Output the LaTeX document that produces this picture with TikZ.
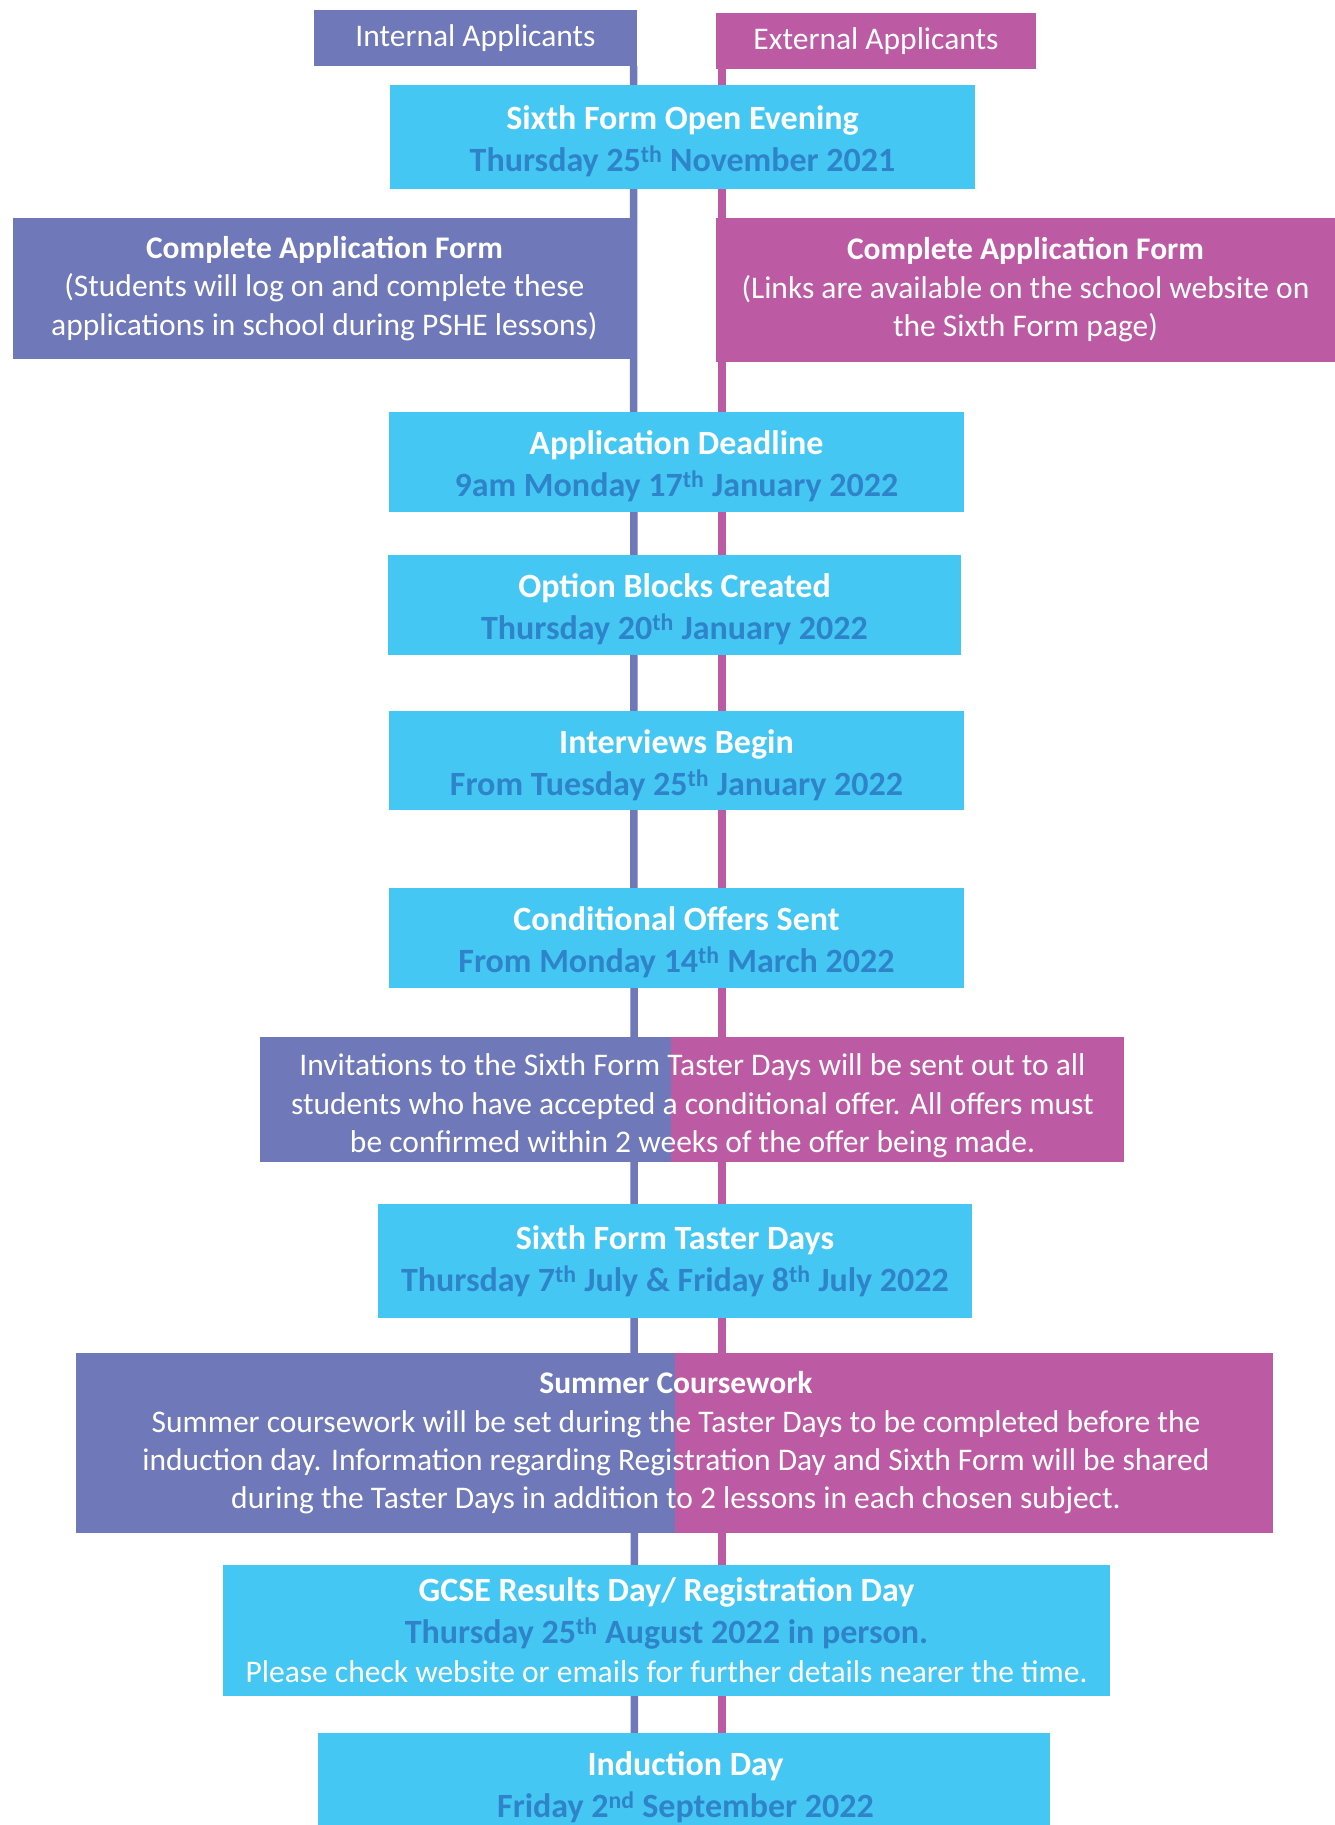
\documentclass[tikz,border=0pt]{standalone}
\usepackage{fontspec}
\setmainfont{Carlito}
\definecolor{intc}{HTML}{6F78B8}
\definecolor{extc}{HTML}{BC5BA3}
\definecolor{cyanc}{HTML}{45C7F3}
\definecolor{datec}{HTML}{2F84C9}
\pgfdeclarelayer{bg}
\pgfsetlayers{bg,main}
\tikzset{
  basebox/.style={rectangle, inner sep=0pt, outer sep=0pt, align=center, text=white},
  bodyfont/.style={font=\fontsize{31.5}{38.4}\selectfont},
  cfill/.style={rectangle, inner sep=0pt, outer sep=0pt, fill=cyanc},
  ctext/.style={basebox, font=\fontsize{34}{42}\selectfont\bfseries},
  cbox/.style={basebox, fill=cyanc, font=\fontsize{34}{42}\selectfont\bfseries},
  ibox/.style={basebox, fill=intc, bodyfont},
  ebox/.style={basebox, fill=extc, bodyfont},
  tbox/.style={basebox, bodyfont},
  iline/.style={draw=intc, line width=7.5pt},
  eline/.style={draw=extc, line width=7.5pt},
}
\newcommand{\dt}[1]{{\color{datec}#1}}
\begin{document}
\begin{tikzpicture}[x=1pt,y=-1pt]
\useasboundingbox (0,0) rectangle (1335,1825);

% top labels
\node[ibox, minimum width=323, minimum height=56] (intA) at (475.5,38) {Internal Applicants};
\node[ebox, minimum width=320, minimum height=56] (extA) at (876,41) {External Applicants};

% open evening
\node[cfill, minimum width=585, minimum height=104] (open) at (682.5,137) {};
\node[ctext] (openT) at ([yshift=-4.5pt]open.center)
  {Sixth Form Open Evening\\\dt{Thursday 25\textsuperscript{th} November 2021}};

% application forms
\node[ibox, minimum width=623, minimum height=141] (intF) at (324.5,288.5)
  {\textbf{Complete Application Form}\\(Students will log on and complete these\\applications in school during PSHE lessons)};
\node[ebox, minimum width=619, minimum height=144] (extF) at (1025.5,290)
  {\textbf{Complete Application Form}\\(Links are available on the school website on\\the Sixth Form page)};

\node[cfill, minimum width=575, minimum height=100] (dead) at (676.5,462) {};
\node[ctext] (deadT) at ([yshift=-4.5pt]dead.center)
  {Application Deadline\\\dt{9am Monday 17\textsuperscript{th} January 2022}};
\node[cfill, minimum width=573, minimum height=100] (opt) at (674.5,605) {};
\node[ctext] (optT) at ([yshift=-4.5pt]opt.center)
  {Option Blocks Created\\\dt{Thursday 20\textsuperscript{th} January 2022}};
\node[cfill, minimum width=575, minimum height=99] (intv) at (676.5,760.5) {};
\node[ctext] (intvT) at ([yshift=-4.5pt]intv.center)
  {Interviews Begin\\\dt{From Tuesday 25\textsuperscript{th} January 2022}};
\node[cfill, minimum width=575, minimum height=100] (cond) at (676.5,938) {};
\node[ctext] (condT) at ([yshift=-4.5pt]cond.center)
  {Conditional Offers Sent\\\dt{From Monday 14\textsuperscript{th} March 2022}};

% invitations (split box)
\fill[intc] (260,1037) rectangle (671,1162);
\fill[extc] (671,1037) rectangle (1124,1162);
\node[tbox] (inv) at (692.5,1106)
  {Invitations to the Sixth Form Taster Days will be sent out to all\\students who have accepted a conditional offer. All offers must\\be confirmed within 2 weeks of the offer being made.};

\node[cbox, minimum width=594, minimum height=114] (taster) at (675,1261)
  {Sixth Form Taster Days\\\dt{Thursday 7\textsuperscript{th} July \& Friday 8\textsuperscript{th} July 2022}};

% summer coursework (split box)
\fill[intc] (76,1353) rectangle (675,1533);
\fill[extc] (675,1353) rectangle (1273,1533);
\node[tbox] (summer) at (676,1443)
  {\textbf{Summer Coursework}\\Summer coursework will be set during the Taster Days to be completed before the\\induction day. Information regarding Registration Day and Sixth Form will be shared\\during the Taster Days in addition to 2 lessons in each chosen subject.};

\node[cbox, minimum width=887, minimum height=131] (gcse) at (666.5,1630.5)
  {GCSE Results Day/ Registration Day\\\dt{Thursday 25\textsuperscript{th} August 2022 in person.}\\[-3pt]{\mdseries\fontsize{31.5}{38.4}\selectfont Please check website or emails for further details nearer the time.}};

% induction (runs off the bottom)
\fill[cyanc] (318,1733) rectangle (1050,1830);
\node[ctext] (ind) at (685.5,1787)
  {Induction Day\\\dt{Friday 2\textsuperscript{nd} September 2022}};

% connector lines behind everything
\coordinate (ibot) at (634.5,1830);
\coordinate (ebot) at (722,1830);
\begin{pgfonlayer}{bg}
\draw[iline] ([xshift=-3.5pt]intA.south east) -- (ibot);
\draw[eline] ([xshift=6pt]extA.south west) -- (ebot);
\end{pgfonlayer}
\end{tikzpicture}
\end{document}
